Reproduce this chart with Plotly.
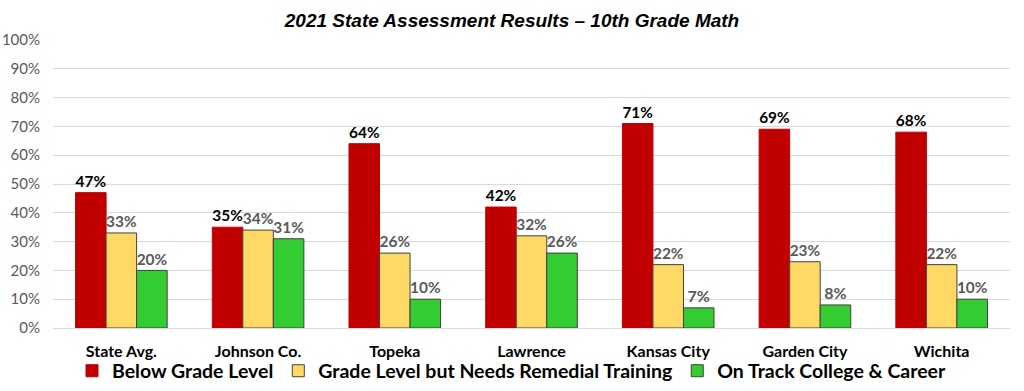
import plotly.graph_objects as go

categories = ["State Avg.", "Johnson Co.", "Topeka", "Lawrence", "Kansas City", "Garden City", "Wichita"]
below = [0.47, 0.35, 0.64, 0.42, 0.71, 0.69, 0.68]
remedial = [0.33, 0.34, 0.26, 0.32, 0.22, 0.23, 0.22]
on_track = [0.20, 0.31, 0.10, 0.26, 0.07, 0.08, 0.10]
series_names = ["Below Grade Level", "Grade Level but Needs Remedial Training", "On Track College & Career"]
title = "2021 State Assessment Results – 10th Grade Math"

font_main = "Lato, 'Open Sans', Calibri, sans-serif"

fig = go.Figure()
specs = [
    (below, series_names[0], "#C00000", "#C00000", "black"),
    (remedial, series_names[1], "#FFD966", "#404040", "#595959"),
    (on_track, series_names[2], "#33CC33", "#404040", "#595959"),
]
for vals, name, fill, line, tcol in specs:
    fig.add_trace(go.Bar(
        x=categories, y=vals, name=name,
        marker=dict(color=fill, line=dict(color=line, width=1)),
        text=[f"{round(v*100)}%" for v in vals],
        textposition="outside",
        textfont=dict(family=font_main, size=16, color=tcol, weight="bold"),
        cliponaxis=False,
    ))

fig.update_layout(
    width=1024, height=391,
    margin=dict(l=53, r=14, t=40, b=63, autoexpand=False),
    paper_bgcolor="white", plot_bgcolor="white",
    barmode="group", bargap=0.33, bargroupgap=0,
    title=dict(text=title, x=0.5, xanchor="center", xref="container", y=0.949, yanchor="middle",
               font=dict(family="Liberation Sans, Arial", size=19, color="black", weight="bold", style="italic")),
    xaxis=dict(showgrid=False, showline=True, linecolor="#D9D9D9", linewidth=1, automargin=False,
               tickfont=dict(family=font_main, size=16, color="black", weight="bold"),
               ticks="", ticklabelstandoff=9),
    yaxis=dict(range=[0, 1], dtick=0.1, tickformat=".0%", showgrid=True, gridcolor="#D9D9D9",
               zeroline=False, automargin=False, tickfont=dict(family=font_main, size=15, color="#595959"),
               ticklabelstandoff=12),
    legend=dict(orientation="h", x=0.5, xanchor="center", xref="container",
                y=0.051, yanchor="middle", yref="container", bgcolor="rgba(0,0,0,0)",
                font=dict(family=font_main, size=19.5, color="black", weight="bold"),
                traceorder="normal", itemwidth=30),
)
fig.write_html("out.html", config={"displayModeBar": False},
               post_script="document.body.style.margin='0';")
